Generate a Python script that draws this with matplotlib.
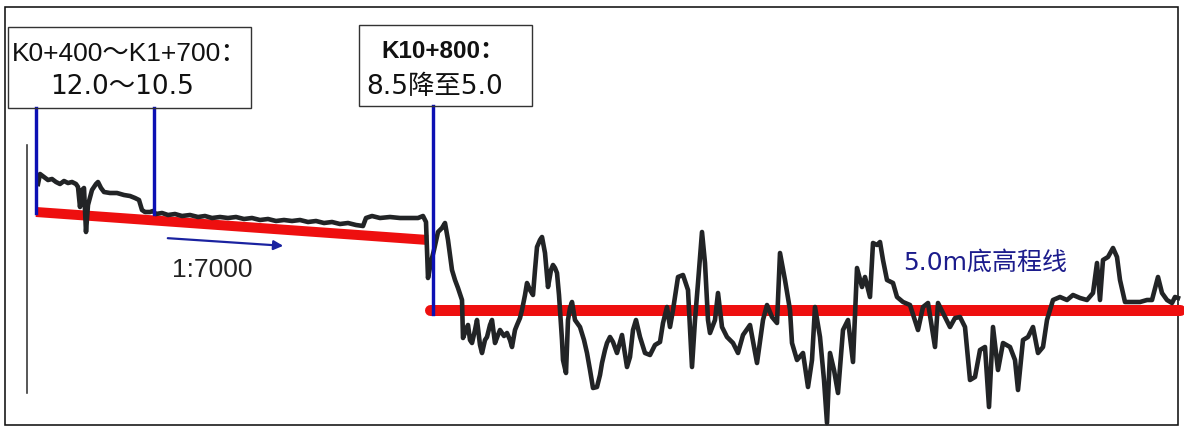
import matplotlib
matplotlib.use("Agg")
import matplotlib.pyplot as plt
from matplotlib.patches import Rectangle, FancyArrowPatch

# ---- data (image units: station along x, bed level measured downward) ----
station = [38, 40, 44, 48, 52, 56, 60, 64, 68, 72, 76, 78, 80, 82, 84, 86, 88, 92, 96, 98,
           101, 104, 110, 117, 124, 130, 135, 139, 142, 145, 150, 153,
           156, 162, 168, 175, 182, 190, 198, 205, 212, 220, 228, 236, 244, 252, 260, 268,
           276, 284, 292, 300, 308, 316, 324, 332, 340, 348, 356, 363, 366, 372, 380, 390,
           400, 410, 418, 423, 426,
           428, 431, 434, 438, 442, 445, 448, 452, 455, 458, 462, 463, 466, 468, 470, 472,
           475, 477, 480, 482, 485, 487, 490, 492, 495, 498, 500, 504, 507, 510, 512, 515,
           517, 520, 522, 525, 527, 530, 533, 535, 537, 540, 542, 545, 548, 551, 553, 555,
           557, 559, 560, 562, 563, 566, 568, 570, 572, 575, 580, 584, 587, 590, 593, 597,
           600, 602, 605, 607, 610, 613, 617, 622, 627, 630, 633, 636, 640, 645, 650, 655,
           660, 663, 667, 670, 673, 678, 683, 688, 692, 695, 698, 702, 705, 708, 710, 715,
           718, 722, 727, 733, 738, 743, 750, 757, 763, 767, 772, 777, 780, 785, 790, 792,
           797, 803, 808, 812, 815, 820, 824, 827, 830, 834, 838, 843, 848, 853, 857, 862,
           865, 870, 873, 877, 880, 883, 887, 893, 897, 903, 910, 918, 923, 928, 935, 938,
           945, 950, 955, 960, 965, 970, 975, 980, 985, 989, 993, 998, 1003, 1010, 1015, 1018,
           1023, 1028, 1033, 1038, 1043, 1047, 1053, 1060, 1067, 1073, 1080, 1087, 1093, 1097,
           1100, 1103, 1108, 1113, 1117, 1120, 1125, 1133, 1140, 1147, 1152, 1158, 1162, 1167,
           1172, 1175, 1178]
bed = [184, 174, 177, 180, 179, 182, 184, 181, 183, 182, 184, 187, 207, 190, 188, 232, 205, 190, 184, 182,
       188, 192, 193, 193, 195, 196, 198, 200, 210, 212, 212, 211,
       214, 213, 215, 214, 216, 215, 217, 216, 218, 217, 218, 217, 219, 218, 220, 219,
       221, 220, 221, 220, 222, 221, 223, 222, 224, 223, 225, 226, 218, 216, 218, 217,
       218, 218, 218, 216, 222,
       278, 262, 250, 232, 228, 223, 240, 270, 280, 288, 300, 338, 330, 325, 340, 343,
       330, 320, 345, 353, 340, 337, 325, 320, 343, 335, 330, 336, 333, 340, 347, 330,
       325, 318, 310, 295, 283, 290, 295, 270, 247, 240, 237, 253, 287, 270, 265, 268,
       273, 295, 310, 340, 360, 373, 320, 308, 302, 320, 327, 340, 353, 370, 388, 387,
       375, 363, 350, 343, 337, 342, 353, 335, 367, 357, 330, 320, 337, 353, 355, 345,
       342, 323, 307, 327, 310, 277, 275, 290, 367, 320, 283, 232, 263, 320, 333, 320,
       293, 327, 337, 343, 353, 335, 325, 363, 320, 305, 317, 323, 253, 280, 310, 343,
       360, 353, 387, 360, 307, 337, 380, 423, 353, 370, 393, 330, 320, 362, 268, 287,
       277, 297, 243, 245, 242, 260, 280, 283, 297, 302, 305, 330, 307, 303, 347, 303,
       317, 327, 318, 317, 327, 380, 377, 350, 347, 407, 327, 370, 343, 347, 360, 390,
       340, 337, 327, 353, 347, 320, 300, 297, 300, 295, 298, 300, 293, 263,
       300, 260, 257, 248, 257, 280, 302, 302, 302, 300, 300, 277, 293, 300,
       303, 297, 298]

slope_x = [36, 428]          # 12.0 -> 8.5 design bed, 1:7000
slope_y = [212, 240]
flat_x = [430, 1180]         # 5.0 m design bed
flat_y = [310, 310]

marker_x = [36, 154, 433]
marker_top = [108, 108, 106]
marker_bottom = [213, 214, 314]

box1_lines = ["K0+400～K1+700：", "12.0～10.5"]
box2_lines = ["K10+800：", "8.5降至5.0"]
slope_label = "1:7000"
flat_label = "5.0m底高程线"

# ---- figure ----
W, H = 1184, 430
fig = plt.figure(figsize=(W / 100, H / 100), dpi=100)
ax = fig.add_axes([0, 0, 1, 1])
ax.set_xlim(0, W)
ax.set_ylim(H, 0)
ax.axis("off")

PX = 72 / 100  # points per pixel
cjk = ["DejaVu Sans", "Noto Sans CJK SC"]
lat = ["Liberation Sans", "Noto Sans CJK SC"]

# outer frame
ax.add_patch(Rectangle((5, 7), 1173, 418, fill=False, ec="#111111", lw=1.6 * PX, zorder=1))
# thin left axis line
ax.plot([27, 27], [145, 393], color="#333333", lw=1.6 * PX, zorder=1)

# design bed lines
ax.plot(slope_x, slope_y, color="#ee0f0f", lw=10 * PX, solid_capstyle="butt", zorder=2)
ax.plot(flat_x, flat_y, color="#ee0f0f", lw=11 * PX, solid_capstyle="round", zorder=2)

# measured profile
ax.plot(station, bed, color="#222426", lw=4.6 * PX, solid_joinstyle="round", zorder=3)

# blue markers
for x, t, b in zip(marker_x, marker_top, marker_bottom):
    ax.plot([x, x], [t, b], color="#0c10b4", lw=3.4 * PX, zorder=4)

# annotation boxes
ax.add_patch(Rectangle((8, 27), 243, 81, fill=False, ec="#333333", lw=1.4 * PX, zorder=5))
ax.add_patch(Rectangle((359, 25), 173, 81, fill=False, ec="#333333", lw=1.4 * PX, zorder=5))

ax.text(12, 54, box1_lines[0], fontsize=19, family=lat, color="#111111", va="center", ha="left")
ax.text(50, 87, box1_lines[1], fontsize=19, family=cjk, color="#111111", va="center", ha="left")
ax.text(381, 51, box2_lines[0], fontsize=17.5, family=lat, fontweight="bold", color="#111111",
        va="center", ha="left")
ax.text(366, 87, box2_lines[1], fontsize=19, family=cjk, color="#111111", va="center", ha="left")

# slope arrow + label
ax.add_patch(FancyArrowPatch((165, 238), (286, 246), arrowstyle="-|>", mutation_scale=14,
                             color="#1a22a0", lw=2.2 * PX, zorder=4))
ax.text(172, 270, slope_label, fontsize=19, family=lat, color="#222222", va="center", ha="left")

ax.text(903, 263, flat_label, fontsize=18, family=cjk, color="#1c1c8c", va="center", ha="left")

fig.savefig("out.png", dpi=100, facecolor="white")
